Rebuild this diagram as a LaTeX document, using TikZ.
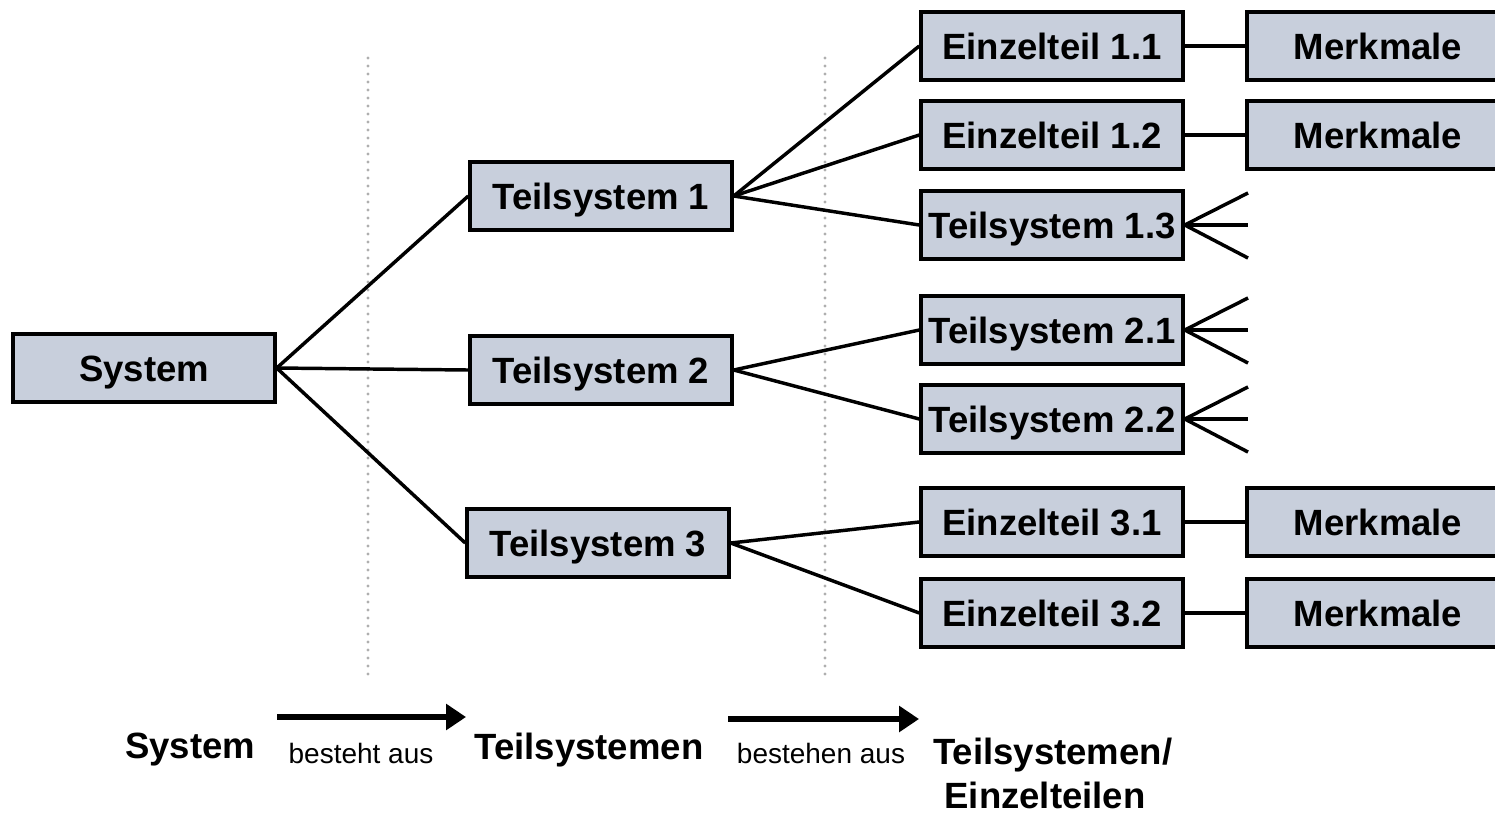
\documentclass[tikz,border=0pt]{standalone}
\usepackage{fontspec}
\setmainfont{Liberation Sans}
\usetikzlibrary{arrows.meta}
\definecolor{boxfill}{RGB}{200,207,220}
\definecolor{guide}{RGB}{175,175,175}
\begin{document}
\begin{tikzpicture}[x=0.75pt,y=-0.75pt,
  part/.style={draw=black,line width=2.6pt,fill=boxfill,minimum width=196.5pt,
    minimum height=51pt,inner sep=0pt,text height=19.6pt,text depth=0pt,
    font=\fontsize{27.4}{32}\selectfont\bfseries},
  link/.style={line width=2.6pt},
  guideline/.style={guide,line width=2.3pt,line cap=round,dash pattern=on 0pt off 6pt},
  flow/.style={line width=3.8pt,-{Triangle[length=15pt,width=19pt]}},
  bigtext/.style={font=\fontsize{27.4}{32}\selectfont\bfseries,inner sep=0pt},
  smalltext/.style={font=\fontsize{21}{25}\selectfont,inner sep=0pt}]
\useasboundingbox (0,0) rectangle (1495,815);

% vertical guides between the levels
\coordinate (g1a) at (368,58);  \coordinate (g1b) at (368,678);
\coordinate (g2a) at (825,58);  \coordinate (g2b) at (825,678);
\draw[guideline] (g1a) -- (g1b);
\draw[guideline] (g2a) -- (g2b);

% level 0
\node[part] (sys) at (144,368) {System};

% level 1
\node[part] (t1) at (601,196) {Teilsystem 1};
\node[part] (t2) at (601,370) {Teilsystem 2};
\node[part] (t3) at (598,543) {Teilsystem 3};

% level 2
\node[part] (e11) at (1052,46)  {Einzelteil 1.1};
\node[part] (e12) at (1052,135) {Einzelteil 1.2};
\node[part] (t13) at (1052,225) {Teilsystem 1.3};
\node[part] (t21) at (1052,330) {Teilsystem 2.1};
\node[part] (t22) at (1052,419) {Teilsystem 2.2};
\node[part] (e31) at (1052,522) {Einzelteil 3.1};
\node[part] (e32) at (1052,613) {Einzelteil 3.2};

% features
\node[part] (m11) at (1378,46)  {Merkmale};
\node[part] (m12) at (1378,135) {Merkmale};
\node[part] (m31) at (1378,522) {Merkmale};
\node[part] (m32) at (1378,613) {Merkmale};

% tree connectors
\draw[link] (sys.east) -- (t1.west);
\draw[link] (sys.east) -- (t2.west);
\draw[link] (sys.east) -- (t3.west);
\draw[link] (t1.east) -- (e11.west);
\draw[link] (t1.east) -- (e12.west);
\draw[link] (t1.east) -- (t13.west);
\draw[link] (t2.east) -- (t21.west);
\draw[link] (t2.east) -- (t22.west);
\draw[link] (t3.east) -- (e31.west);
\draw[link] (t3.east) -- (e32.west);
\draw[link] (e11.east) -- (m11.west);
\draw[link] (e12.east) -- (m12.west);
\draw[link] (e31.east) -- (m31.west);
\draw[link] (e32.east) -- (m32.west);

% open branches of the sub-systems
\foreach \n/\y in {t13/225,t21/330,t22/419}{
  \coordinate (\n-a) at (1248,\y-32);
  \coordinate (\n-b) at (1248,\y);
  \coordinate (\n-c) at (1248,\y+33);
  \draw[link] (\n.east) -- (\n-a);
  \draw[link] (\n.east) -- (\n-b);
  \draw[link] (\n.east) -- (\n-c);
}

% legend
\coordinate (a1s) at (277,717); \coordinate (a1e) at (466,717);
\coordinate (a2s) at (728,719); \coordinate (a2e) at (919,719);
\draw[flow] (a1s) -- (a1e);
\draw[flow] (a2s) -- (a2e);
\node[bigtext] (l1) at (190,750) {System};
\node[smalltext] (l2) at (361,753) {besteht aus};
\node[bigtext] (l3) at (589,750) {Teilsystemen};
\node[smalltext] (l4) at (821,753) {bestehen aus};
\node[bigtext,anchor=west] (l5) at (933,755) {Teilsystemen/};
\node[bigtext] (l6) at (1045,795) {Einzelteilen};
\end{tikzpicture}
\end{document}
